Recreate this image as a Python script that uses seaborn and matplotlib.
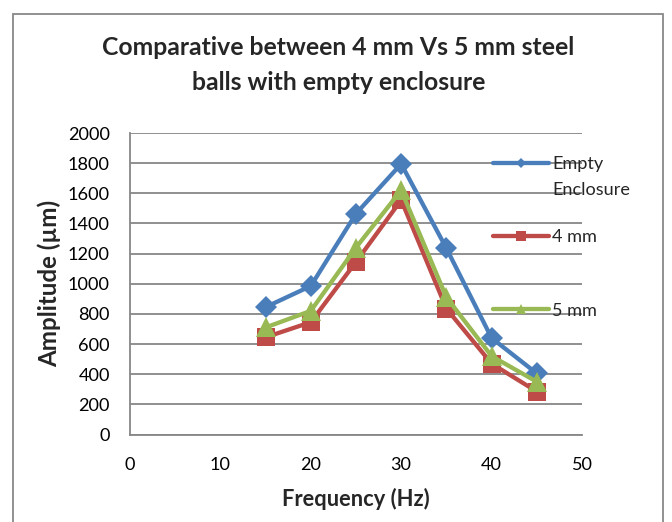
import matplotlib
matplotlib.use("Agg")
import matplotlib.pyplot as plt
import seaborn as sns
import pandas as pd
from matplotlib.patches import Rectangle
from matplotlib.font_manager import FontProperties

# ---------------- data ----------------
freq = [15, 20, 25, 30, 35, 40, 45]
empty_enclosure = [845, 985, 1465, 1795, 1235, 640, 405]
mm4 = [645, 745, 1145, 1555, 835, 470, 285]
mm5 = [710, 820, 1240, 1620, 910, 520, 350]
series_names = ["Empty Enclosure", "4 mm", "5 mm"]
x_ticks = [0, 10, 20, 30, 40, 50]
y_ticks = [0, 200, 400, 600, 800, 1000, 1200, 1400, 1600, 1800, 2000]
title_text = "Comparative between 4 mm Vs 5 mm steel\nballs with empty enclosure"
x_label = "Frequency (Hz)"
y_label = "Amplitude (µm)"

# ---------------- style ----------------
W, H, DPI = 672, 522, 100
PT = 72.0 / DPI

sns.set_style("white")
plt.rcParams['font.family'] = ['Lato', 'DejaVu Sans']

fig = plt.figure(figsize=(W / DPI, H / DPI), dpi=DPI)
ax = fig.add_axes([130 / W, 1 - 434.5 / H, (582 - 130) / W, (434.5 - 133) / H])
renderer = fig.canvas.get_renderer()


def text_w(s, size, weight='normal'):
    t = fig.text(0, 0, s, fontsize=size, fontweight=weight)
    w = t.get_window_extent(renderer).width
    t.remove()
    return w


def fit(s, target, weight='normal', start=12.0):
    return start * target / text_w(s, start, weight)


def metrics(s, size, weight='normal'):
    fp = FontProperties(family=plt.rcParams['font.family'], size=size, weight=weight)
    _, h, d = renderer.get_text_width_height_descent(s, fp, ismath=False)
    _, hl, dl = renderer.get_text_width_height_descent("lp", fp, ismath=False)
    return max(h, hl), max(d, dl)


tick_fs = fit("2000", 42)
xl_fs = fit(x_label, 146.6, 'bold')
yl_fs = fit(y_label, 166, 'bold')
title_fs = fit(title_text.split("\n")[0], 471, 'bold')
leg_fs = fit("Enclosure", 78)

colors = ["#4A7EBB", "#BE4B48", "#98B954"]
markers = ["D", "s", "^"]
msizes = [11.5, 13, 15]
leg_msizes = [5.5, 7.5, 7.5]
values = [empty_enclosure, mm4, mm5]

for name, vals, c, m, ms in zip(series_names, values, colors, markers, msizes):
    df = pd.DataFrame({"Frequency": freq, "Amplitude": vals})
    sns.lineplot(data=df, x="Frequency", y="Amplitude", ax=ax, color=c,
                 marker=m, markersize=ms, markeredgewidth=0, linewidth=3.1,
                 label=name, clip_on=False)

ax.set_xlim(0, 50)
ax.set_ylim(0, 2000)
ax.set_xticks(x_ticks)
ax.set_yticks(y_ticks)
xpad, ypad = 12.0, 14.0
ax.tick_params(axis='both', length=0, labelsize=tick_fs, colors='black')
ax.tick_params(axis='x', pad=xpad)
ax.tick_params(axis='y', pad=ypad)
ax.yaxis.grid(True, color="#878787", linewidth=1.3)
ax.xaxis.grid(False)
ax.set_axisbelow(True)
for s in ["top", "right"]:
    ax.spines[s].set_visible(False)
for s in ["left", "bottom"]:
    ax.spines[s].set_color("#878787")
    ax.spines[s].set_linewidth(1.3)

xlpad, ylpad = 10.0, 8.0
ax.set_xlabel(x_label, fontsize=xl_fs, fontweight='bold', labelpad=xlpad)
ax.set_ylabel(y_label, fontsize=yl_fs, fontweight='bold', labelpad=ylpad)

# title with line spacing matched to reference
h1, d1 = metrics(title_text.split("\n")[0], title_fs, 'bold')
h2, d2 = metrics(title_text.split("\n")[1], title_fs, 'bold')
hl, dl = metrics("lp", title_fs, 'bold')
ls = (34.5 - d1) / max(hl - dl, h2 - d2)
title_y = 1 - 38 / H
st = fig.suptitle(title_text, x=338.3 / W, y=title_y, fontsize=title_fs,
                  fontweight='bold', linespacing=ls, va='top', ha='center')

# legend
handles, _ = ax.get_legend_handles_labels()
leg_labels = ["Empty", series_names[1], series_names[2]]
fs_px = leg_fs / PT
lh, ld = metrics("lp", leg_fs)
labelspacing = (73.3 - lh) / fs_px
anchor = [492.7 / W, 1 - 150 / H]


def make_legend():
    lg = ax.legend(handles, leg_labels, loc='upper left',
                   bbox_to_anchor=tuple(anchor), bbox_transform=fig.transFigure,
                   frameon=False, fontsize=leg_fs,
                   handlelength=55.6 / fs_px, handletextpad=3.5 / fs_px,
                   labelspacing=labelspacing, borderpad=0, borderaxespad=0)
    for hnd, ms in zip(lg.legend_handles, leg_msizes):
        hnd.set_markersize(ms)
    return lg


leg = make_legend()


def baseline_of(t, s, size, weight='normal'):
    bb = t.get_window_extent(renderer)
    _, d = metrics(s, size, weight)
    return (H - bb.y0) - d, bb


for _ in range(3):
    fig.canvas.draw()
    # x tick labels: baseline at 470
    tl = ax.get_xticklabels()[1]
    b, _bb = baseline_of(tl, tl.get_text(), tick_fs)
    xpad += (470 - b) * PT
    # y tick labels: right edge at 110
    yl = ax.get_yticklabels()[0]
    ypad += (yl.get_window_extent(renderer).x1 - 110) * PT
    ax.tick_params(axis='x', pad=xpad)
    ax.tick_params(axis='y', pad=ypad)
    # x label baseline at 506.5
    b, _bb = baseline_of(ax.xaxis.label, x_label, xl_fs, 'bold')
    xlpad += (506.5 - b) * PT
    ax.xaxis.labelpad = xlpad
    # y label baseline (rotated) at x = 56.7
    bb = ax.yaxis.label.get_window_extent(renderer)
    _, d = metrics(y_label, yl_fs, 'bold')
    ylpad += ((bb.x1 - d) - 56.7) * PT
    ax.yaxis.labelpad = ylpad
    # title first baseline at 55
    bb = st.get_window_extent(renderer)
    b1 = (H - bb.y1) + (h1 - d1)
    title_y -= (55 - b1) / H
    st.set_y(title_y)
    # legend: text start x 552, first baseline 169, pitch 73.3
    b0, bb0 = baseline_of(leg.texts[0], "Empty", leg_fs)
    b1l, _bb = baseline_of(leg.texts[1], leg_labels[1], leg_fs)
    labelspacing += (73.3 - (b1l - b0)) / fs_px
    anchor[0] += (552 - bb0.x0) / W
    anchor[1] -= (169 - b0) / H
    leg.remove()
    leg = make_legend()

fig.canvas.draw()
b0, bb0 = baseline_of(leg.texts[0], "Empty", leg_fs)
fig.text(bb0.x0 / W, 1 - (b0 + 26) / H, "Enclosure", fontsize=leg_fs,
         ha='left', va='baseline')

fig.patches.append(Rectangle((13 / W, -0.1), (663 - 13) / W, 1.1 - 14 / H,
                             transform=fig.transFigure, fill=False,
                             edgecolor="#888888", linewidth=1.3))

fig.savefig("out.png", dpi=DPI)
